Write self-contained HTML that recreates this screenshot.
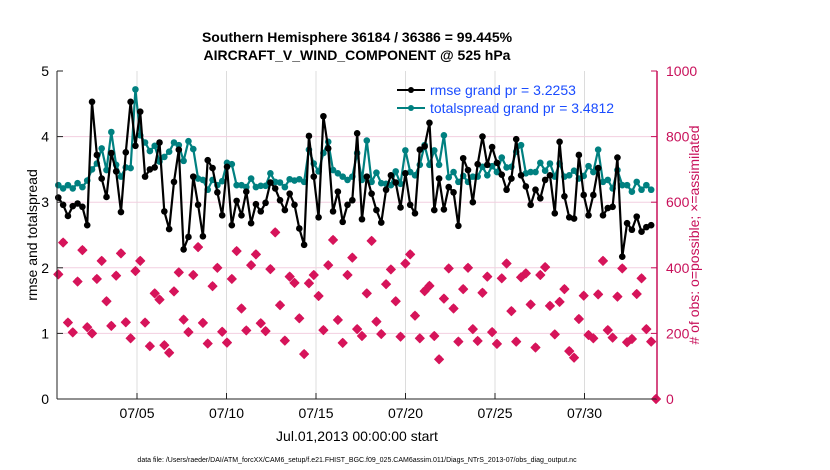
<!DOCTYPE html>
<html><head><meta charset="utf-8"><style>
body{margin:0;background:#fff;}
svg{display:block;font-family:"Liberation Sans",sans-serif;}
</style></head><body>
<svg id="chart" width="830" height="470" viewBox="0 0 830 470" xmlns="http://www.w3.org/2000/svg">
<rect width="830" height="470" fill="#fff"/>
<text x="357" y="42" text-anchor="middle" font-size="14" font-weight="bold">Southern Hemisphere 36184 / 36386 = 99.445%</text>
<text x="357" y="60" text-anchor="middle" font-size="14" font-weight="bold">AIRCRAFT_V_WIND_COMPONENT @ 525 hPa</text>
<g id="grid"></g>
<g id="obs"></g>
<g id="lines"></g>
<g id="axes"></g>
<g>
<line x1="397" y1="90" x2="425" y2="90" stroke="#000" stroke-width="2"/><circle cx="411" cy="90" r="3" fill="#000"/>
<text x="430" y="95" font-size="14" fill="#1a4cff">rmse grand pr = 3.2253</text>
<line x1="397" y1="108" x2="425" y2="108" stroke="#008080" stroke-width="2"/><circle cx="411" cy="108" r="3" fill="#008080"/>
<text x="430" y="113" font-size="14" fill="#1a4cff">totalspread grand pr = 3.4812</text>
</g>
<text transform="translate(37,235) rotate(-90)" text-anchor="middle" font-size="14">rmse and totalspread</text>
<text transform="translate(699,235) rotate(-90)" text-anchor="middle" font-size="14" fill="#c8105a"># of obs: o=possible; ×=assimilated</text>
<text x="357" y="441" text-anchor="middle" font-size="14">Jul.01,2013 00:00:00 start</text>
<text x="357" y="462" text-anchor="middle" font-size="7">data file: /Users/raeder/DAI/ATM_forcXX/CAM6_setup/f.e21.FHIST_BGC.f09_025.CAM6assim.011/Diags_NTrS_2013-07/obs_diag_output.nc</text>
</svg>
<script>
const rmse=[3.07,2.96,2.79,2.94,2.98,2.93,2.65,4.53,3.72,3.36,3.08,3.75,3.47,2.85,3.76,4.53,3.86,4.38,3.39,3.50,3.53,3.91,2.86,2.59,3.31,3.80,2.28,2.47,3.39,2.96,2.48,3.64,
3.52,3.15,2.80,3.54,2.65,3.02,2.80,3.16,2.68,2.97,2.86,2.99,3.30,3.21,3.03,2.88,3.13,2.96,2.60,2.35,4.01,3.39,2.77,4.31,3.82,2.86,3.16,2.70,2.96,3.03,4.05,
2.74,3.39,3.13,2.88,2.69,3.19,3.41,3.30,2.92,3.44,2.96,2.83,3.80,3.85,4.21,2.88,3.36,2.89,3.23,3.15,2.64,3.67,3.49,3.00,3.58,4.00,3.57,3.84,3.60,3.42,3.19,
3.36,3.96,3.41,3.24,2.96,3.19,3.06,3.34,3.41,2.83,3.92,3.09,2.77,2.75,3.72,3.11,2.80,3.11,3.52,2.80,2.91,2.93,3.68,2.17,2.68,2.58,2.78,2.55,2.62,2.65,null];
const spread=[3.26,3.21,3.26,3.21,3.29,3.23,3.33,3.50,3.59,3.82,3.49,4.07,3.57,3.39,3.53,3.52,4.72,4.02,3.91,3.78,3.86,3.62,3.69,3.77,3.91,3.87,3.63,3.93,3.81,3.36,3.34,3.19,
3.34,3.26,3.32,3.60,3.58,3.26,3.26,3.23,3.36,3.23,3.25,3.25,3.44,3.31,3.30,3.23,3.35,3.33,3.35,3.31,3.80,3.59,3.47,3.75,3.92,3.49,3.44,3.39,3.34,3.39,3.75,
3.34,3.94,3.31,3.45,3.29,3.28,3.26,3.47,3.28,3.79,3.46,3.41,3.57,3.87,3.57,3.79,3.57,4.02,3.38,3.46,3.31,3.40,3.31,3.39,3.39,3.54,3.41,3.55,3.46,3.68,3.53,
3.54,3.77,3.87,3.44,3.46,3.46,3.60,3.48,3.59,3.39,3.59,3.39,3.41,3.48,3.36,3.40,3.55,3.46,3.80,3.31,3.34,3.21,3.49,3.26,3.26,3.16,3.31,3.19,3.26,3.19,null];
const nobs=[380,477,233,203,358,454,219,200,366,421,298,223,376,444,234,185,390,421,233,161,322,303,164,141,328,386,242,204,378,463,232,169,
344,400,205,172,366,451,276,209,408,441,231,207,396,508,286,178,373,354,246,137,353,378,314,210,408,485,241,171,378,431,213,
192,322,482,236,198,350,395,298,190,413,441,254,185,329,345,192,121,306,398,276,175,335,400,213,177,324,373,204,168,368,413,
268,175,371,383,288,157,378,402,284,197,296,335,146,126,244,315,195,185,319,421,210,187,312,398,173,183,320,368,213,175,0];
const leftTicks=[0,1,2,3,4,5];
const rightTicks=[0,200,400,600,800,1000];
const dateLabels=["07/05","07/10","07/15","07/20","07/25","07/30"];
const dateDays=[4,9,14,19,24,29];

const X0=57,X1=657,Y0=399,Y1=71;
const xIdx=i=>58.3+i*(656-58.3)/124;
const xDay=d=>65.4+d*17.9;
const yL=v=>Y0-(v/5)*(Y0-Y1);
const yR=v=>Y0-(v/1000)*(Y0-Y1);
const NS='http://www.w3.org/2000/svg';
function mk(tag,attrs,parent){const e=document.createElementNS(NS,tag);for(const k in attrs)e.setAttribute(k,attrs[k]);parent.appendChild(e);return e;}
const grid=document.getElementById('grid'),axes=document.getElementById('axes'),obs=document.getElementById('obs'),lines=document.getElementById('lines');
dateDays.forEach((d,k)=>{
 const g=mk('line',{x1:xDay(d),x2:xDay(d),y1:Y1,y2:Y0,stroke:'#dcdcdc','stroke-width':1},grid);
 
 
 mk('line',{x1:xDay(d),x2:xDay(d),y1:Y0,y2:Y0-6,stroke:'#222','stroke-width':1},axes);
 const l=mk('text',{x:xDay(d),y:Y0+19,'text-anchor':'middle','font-size':14},axes);
 l.textContent=dateLabels[k];
 
 
});
rightTicks.forEach(v=>{
 if(v>0&&v<1000){const g=mk('line',{x1:X0,x2:X1,y1:yR(v),y2:yR(v),stroke:'#f2cfe0','stroke-width':1},grid);
 
 }
 mk('line',{x1:X1,x2:X1-6,y1:yR(v),y2:yR(v),stroke:'#c8105a','stroke-width':1},axes);
 const l=mk('text',{x:X1+9,y:yR(v)+5,'font-size':14,fill:'#c8105a'},axes);
 l.textContent=v;
 
 
});
leftTicks.forEach(v=>{
 mk('line',{x1:X0,x2:X0+6,y1:yL(v),y2:yL(v),stroke:'#222','stroke-width':1},axes);
 const l=mk('text',{x:X0-8,y:yL(v)+5,'text-anchor':'end','font-size':14},axes);
 l.textContent=v;
 
 
});
mk('line',{x1:X0,x2:X0,y1:Y1,y2:Y0,stroke:'#222','stroke-width':1},axes);
mk('line',{x1:X0,x2:X1,y1:Y0,y2:Y0,stroke:'#222','stroke-width':1},axes);
mk('line',{x1:X1,x2:X1,y1:Y1,y2:Y0,stroke:'#c8105a','stroke-width':1.5},axes);

nobs.forEach((v,i)=>{
 const cx=xIdx(i),cy=yR(v);
 const c=mk('circle',{cx:cx,cy:cy-1,r:2.6,fill:'none',stroke:'#d6145a','stroke-width':1},obs);
 
 
 const p=mk('path',{d:`M${cx} ${cy-4.5}L${cx+4.5} ${cy}L${cx} ${cy+4.5}L${cx-4.5} ${cy}Z`,fill:'#d6145a',stroke:'#d6145a','stroke-width':1,'stroke-linejoin':'round'},obs);
 
 
});
function series(arr,color,name){
 let d='';arr.forEach((v,i)=>{if(v==null)return;d+=(d?'L':'M')+xIdx(i).toFixed(1)+' '+yL(v).toFixed(1);});
 const pl=mk('path',{d:d,fill:'none',stroke:color,'stroke-width':2.2,'stroke-linejoin':'round'},lines);
 
 
 arr.forEach((v,i)=>{if(v==null)return;
  const c=mk('circle',{cx:xIdx(i),cy:yL(v),r:3.3,fill:color},lines);
  
  
 });
}
series(spread,'#008080','totalspread');
series(rmse,'#000000','rmse');
</script>
</body></html>
